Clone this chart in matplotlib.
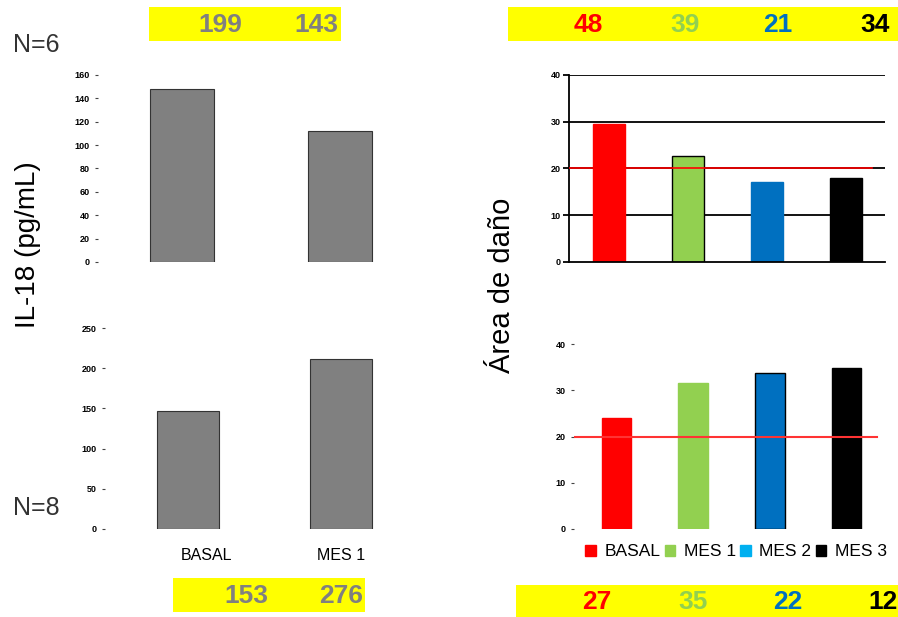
import numpy as np
import matplotlib
matplotlib.use('Agg')
import matplotlib.pyplot as plt
import matplotlib.transforms as mtransforms
from matplotlib.patches import Rectangle, Patch

plt.rcParams['font.family'] = ['Liberation Sans', 'DejaVu Sans']

# data
left_cats = ['BASAL', 'MES 1']
il18_n6 = [148, 112]
il18_n8 = [147, 212]
box_n6 = ['199', '143']
box_n8 = ['153', '276']

right_cats = ['BASAL', 'MES 1', 'MES 2', 'MES 3']
dano_top = [29.5, 22.7, 17.2, 17.9]
dano_bottom = [24.0, 31.6, 33.7, 34.8]
box_top_r = ['48', '39', '21', '34']
box_bottom_r = ['27', '35', '22', '12']
ref_level = 20

bar_colors = ['#FF0000', '#92D050', '#0070C0', '#000000']
legend_colors = ['#FF0000', '#92D050', '#00B0F0', '#000000']
num_colors = ['#FF0000', '#92D050', '#0070C0', '#000000']

W, H = 898, 617
fig = plt.figure(figsize=(W / 100, H / 100), dpi=100)


def px_axes(x0, y0, x1, y1):
    return fig.add_axes([x0 / W, 1 - y1 / H, (x1 - x0) / W, (y1 - y0) / H])


def fx(x):
    return x / W


def fy(y):
    return 1 - y / H


def style_ticks(ax, size=6.5):
    ax.tick_params(axis='y', length=2, width=0.8, labelsize=size, pad=4, color='#444444')
    for lab in ax.get_yticklabels():
        lab.set_fontweight('bold')


# ---- top left: IL-18, N=6
ax1 = px_axes(98, 75, 430, 262)
x = np.arange(len(left_cats))
ax1.bar(x, il18_n6, width=0.405, color='#808080', edgecolor='#333333', linewidth=0.8)
ax1.set_ylim(0, 160)
ax1.set_yticks(range(0, 161, 20))
ax1.set_xlim(-0.532, 1.57)
ax1.set_xticks([])
for s in ax1.spines.values():
    s.set_visible(False)
style_ticks(ax1)

# ---- bottom left: IL-18, N=8
ax2 = px_axes(105, 328, 430, 529)
ax2.bar(x, il18_n8, width=0.405, color='#808080', edgecolor='#333333', linewidth=0.8)
ax2.set_ylim(0, 250)
ax2.set_yticks(range(0, 251, 50))
ax2.set_xlim(-0.542, 1.582)
ax2.set_xticks(x)
ax2.set_xticklabels(left_cats, fontsize=11.5)
ax2.tick_params(axis='x', length=0, pad=14)
# the BASAL label sits a little right of its bar
lab0 = ax2.get_xticklabels()[0]
lab0.set_transform(lab0.get_transform() +
                   mtransforms.ScaledTranslation(19 / 100, 0, fig.dpi_scale_trans))
for s in ax2.spines.values():
    s.set_visible(False)
style_ticks(ax2)

# ---- top right: area de dano
xr = np.arange(len(right_cats))
ax3 = px_axes(569, 75, 885, 262)
for yv in [10, 20, 30, 40]:
    ax3.axhline(yv, color='black', lw=1.3, zorder=1)
ax3.bar(xr, dano_top, width=0.405, color=bar_colors,
        edgecolor=['#FF0000', 'black', '#0070C0', 'black'], linewidth=1, zorder=2)
ax3.axhline(ref_level, xmax=0.959, color='#FF0000', lw=1.2, zorder=3)
ax3.set_ylim(0, 40)
ax3.set_yticks(range(0, 41, 10))
ax3.set_xlim(-0.506, 3.494)
ax3.set_xticks([])
ax3.spines['top'].set_visible(False)
ax3.spines['right'].set_visible(False)
ax3.spines['left'].set_linewidth(1.3)
ax3.spines['bottom'].set_linewidth(1.3)
ax3.tick_params(axis='y', length=4, width=1.3, labelsize=6.5, pad=2)
for lab in ax3.get_yticklabels():
    lab.set_fontweight('bold')

# ---- bottom right
ax4 = px_axes(574, 344, 880, 529)
ax4.bar(xr, dano_bottom, width=0.39, color=bar_colors,
        edgecolor=['#FF0000', '#92D050', 'black', 'black'], linewidth=1, zorder=2)
ax4.axhline(ref_level, xmax=0.99, color='#FF3333', lw=1.5, zorder=3)
ax4.set_ylim(0, 40)
ax4.set_yticks(range(0, 41, 10))
ax4.set_xlim(-0.554, 3.437)
ax4.set_xticks([])
for s in ax4.spines.values():
    s.set_visible(False)
style_ticks(ax4)

handles = [Patch(facecolor=c, edgecolor=c) for c in legend_colors]
fig.legend(handles, right_cats, loc='center', bbox_to_anchor=(fx(736), fy(552)),
           ncol=4, frameon=False, fontsize=12.5, handlelength=0.6, handleheight=0.6,
           handletextpad=0.5, columnspacing=0.25, borderpad=0)

# ---- yellow boxes with numbers
yellow = '#FFFF00'
boxes = [(149, 7, 341, 41), (508, 7, 898, 41), (173, 578, 365, 612), (516, 585, 898, 617)]
for x0, y0, x1, y1 in boxes:
    fig.patches.append(Rectangle((fx(x0), fy(y1)), (x1 - x0) / W, (y1 - y0) / H,
                                 transform=fig.transFigure, facecolor=yellow,
                                 edgecolor='none', zorder=0))

for txt, cx in zip(box_n6, [220, 316]):
    fig.text(fx(cx), fy(25), txt, ha='center', va='center', fontsize=19,
             fontweight='bold', color='#808080')
for txt, cx, c in zip(box_top_r, [588, 685, 778, 875], num_colors):
    fig.text(fx(cx), fy(25), txt, ha='center', va='center', fontsize=19,
             fontweight='bold', color=c)
for txt, cx in zip(box_n8, [246, 341]):
    fig.text(fx(cx), fy(596), txt, ha='center', va='center', fontsize=19,
             fontweight='bold', color='#808080')
for txt, cx, c in zip(box_bottom_r, [597, 693, 788, 883], num_colors):
    fig.text(fx(cx), fy(602), txt, ha='center', va='center', fontsize=19,
             fontweight='bold', color=c)

# ---- labels
fig.text(fx(13), fy(45), 'N=6', ha='left', va='center', fontsize=18, color='#333333')
fig.text(fx(13), fy(508), 'N=8', ha='left', va='center', fontsize=18, color='#333333')
fig.text(fx(28), fy(245), 'IL-18 (pg/mL)', rotation=90, ha='center', va='center', fontsize=20)
fig.text(fx(502), fy(285), 'Área de daño', rotation=90, ha='center', va='center', fontsize=21)

fig.savefig('out.png', dpi=100)
